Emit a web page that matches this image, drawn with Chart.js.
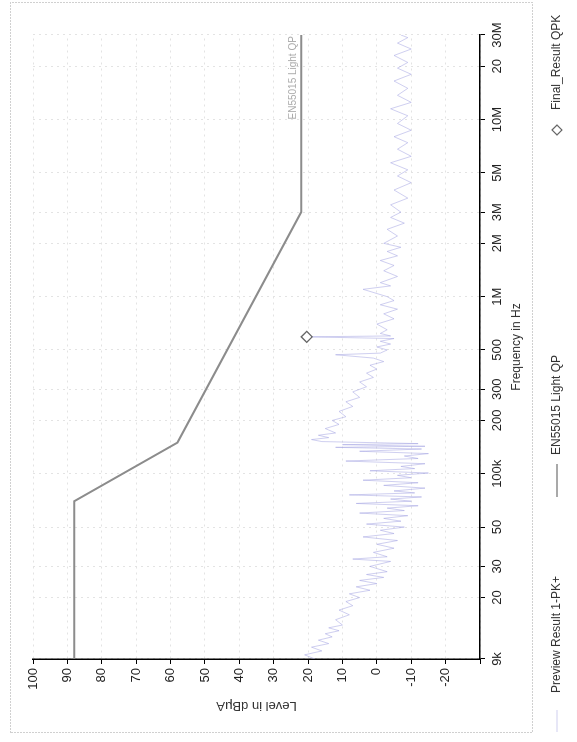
<!DOCTYPE html>
<html>
<head>
<meta charset="utf-8">
<script src="https://cdn.jsdelivr.net/npm/chart.js@4.4.0/dist/chart.umd.min.js"></script>
<style>
  html, body { margin: 0; padding: 0; background: #fff; overflow: hidden; }
  /* the scan is turned a quarter turn counter-clockwise */
  #wrap { position: absolute; left: 0; top: 0; width: 742px; height: 577px;
          transform-origin: 0 0; transform: translateY(742px) rotate(-90deg); }
</style>
</head>
<body>
<div id="wrap"><canvas id="emiChart" width="742" height="577"></canvas></div>
<script>
// axis ticks
const freqTicks = [9e3, 20e3, 30e3, 50e3, 100e3, 200e3, 300e3, 500e3, 1e6, 2e6, 3e6, 5e6, 10e6, 20e6, 30e6];
const freqLabels = ['9k', '20', '30', '50', '100k', '200', '300', '500', '1M', '2M', '3M', '5M', '10M', '20', '30M'];

// EN55015 limit (Hz, dBuA)
const limitFreq = [9e3, 70e3, 150e3, 3e6, 30e6];
const limitLevel = [88, 88, 58, 22, 22];

// final QPK measurement
const finalFreq = [593e3];
const finalLevel = [20.4];

// preview scan, frequencies in kHz
const previewKHz = [
  9, 9.5, 10, 10.5, 11, 11.5, 12, 12.5, 13, 13.5, 14, 15, 16, 17, 18, 19, 20,
  21, 22, 23, 24, 25, 26, 27, 28, 30, 32, 33, 34, 36, 38, 40, 42, 44, 46, 48, 50, 52, 54, 56, 58, 60, 62,
  64, 66, 68, 70, 72, 74, 76, 78, 80, 83, 86, 89, 92, 95, 98, 101, 104, 107, 110, 114, 118, 122, 126, 130, 134, 138, 141, 143, 146, 148,
  152, 156, 160, 165, 170, 180, 190, 200, 210, 225, 240, 255, 270, 290, 310, 330, 350, 370, 390, 410, 430, 450, 470, 480, 500, 520, 540, 560, 580, 593, 600, 620,
  650, 700, 750, 800, 850, 900, 950, 1000, 1100, 1150, 1200, 1300, 1400, 1500, 1600, 1700, 1800, 1900, 2000, 2200, 2400, 2600, 2800, 3000,
  3300, 3600, 4000, 4400, 4800, 5200, 5700, 6200, 6800, 7400, 8000, 8700, 9500, 10500, 11500, 12500, 13700, 15000, 16500, 18000, 19500, 21000, 23000, 25000, 27000, 29000, 30000
];
const previewLevel = [
  18, 21, 16, 19, 14, 17, 13, 15, 11, 14, 10, 12, 8, 11, 7, 9, 5,
  8, 2, 6, 0, 5, -2, 3, -3, 2, -4, 7, -3, 1, -5, 0, -6, 4, -5, -1, -8, 3, -7, -2, -9, 5, -8,
  -3, -12, 6, -10, -4, -13, 8, -11, -5, -14, -2, -12, 4, -10, -6, -15, 2, -11, -7, -14, 9, -12, -8, -15, 5, -13, 12, -14, 10, -12,
  16, 19, 14, 17, 12, 15, 11, 13, 9, 11, 7, 9, 5, 7, 3, 5, 1, 3, 0, 2, -2, 1, 12, -1, -3, 0, -4, -1, -5, 20, -4, -1,
  -3, 0, -5, -2, -6, -1, -5, -3, 4, -4, -1, -6, -2, -5, -1, -6, -3, -7, -2, -6, -3, -8, -4, -7,
  -4, -9, -5, -10, -6, -9, -4, -10, -6, -9, -5, -10, -6, -9, -4, -10, -6, -9, -5, -10, -6, -9, -5, -10, -6, -9, -7
];

const previewColor = 'rgba(160,160,225,0.5)';
const limitColor = '#8c8c8c';
const FONT = '"Liberation Sans", Arial, sans-serif';
Chart.defaults.font.family = FONT;

const pts = (xs, ys, k = 1) => xs.map((x, i) => ({ x: x * k, y: ys[i] }));

// frame, legend and the label on the limit line
const decor = {
  id: 'decor',
  afterDraw(chart) {
    const c = chart.ctx;
    const xs = chart.scales.x, ys = chart.scales.y;
    c.save();
    c.strokeStyle = '#a0a0a0';
    c.lineWidth = 1;
    c.setLineDash([1, 2]);
    c.strokeRect(9.5, 10.5, 730, 522);
    c.setLineDash([]);

    c.fillStyle = '#ababab';
    c.font = '10px ' + FONT;
    c.textBaseline = 'bottom';
    c.fillText('EN55015 Light QP', xs.getPixelForValue(10e6), ys.getPixelForValue(22) - 3);

    const ly = 557;
    c.font = '12px ' + FONT;
    c.fillStyle = '#333';
    c.textBaseline = 'middle';
    c.strokeStyle = previewColor; c.lineWidth = 1;
    c.beginPath(); c.moveTo(10, ly); c.lineTo(32, ly); c.stroke();
    c.fillText('Preview Result 1-PK+', 49, ly);
    c.strokeStyle = limitColor; c.lineWidth = 1.5;
    c.beginPath(); c.moveTo(245, ly); c.lineTo(278, ly); c.stroke();
    c.fillText('EN55015 Light QP', 287, ly);
    c.strokeStyle = '#666'; c.lineWidth = 1.2;
    c.beginPath(); c.moveTo(612, ly - 5); c.lineTo(617, ly); c.lineTo(612, ly + 5); c.lineTo(607, ly); c.closePath(); c.stroke();
    c.fillText('Final_Result QPK', 632, ly);
    c.restore();
  }
};

new Chart(document.getElementById('emiChart'), {
  type: 'scatter',
  data: {
    datasets: [
      {
        label: 'Final_Result QPK',
        data: pts(finalFreq, finalLevel),
        pointStyle: 'rectRot', pointRadius: 5.5, pointBorderWidth: 1.3,
        pointBorderColor: '#666', pointBackgroundColor: '#fff',
        order: 0
      },
      {
        label: 'EN55015 Light QP',
        data: pts(limitFreq, limitLevel),
        showLine: true, borderColor: limitColor, borderWidth: 2, pointRadius: 0,
        order: 1
      },
      {
        label: 'Preview Result 1-PK+',
        data: pts(previewKHz, previewLevel, 1000),
        showLine: true, borderColor: previewColor, borderWidth: 1, pointRadius: 0,
        order: 2
      }
    ]
  },
  options: {
    responsive: false,
    animation: false,
    events: [],
    layout: { padding: { left: 0, right: 35, top: 33, bottom: 0 } },
    plugins: { legend: { display: false }, tooltip: { enabled: false } },
    scales: {
      x: {
        type: 'logarithmic', min: 9e3, max: 30e6,
        afterBuildTicks: s => { s.ticks = freqTicks.map(v => ({ value: v })); },
        afterFit: s => { s.height = 97; },
        ticks: {
          autoSkip: false, maxRotation: 0, minRotation: 0, padding: 5,
          color: '#222', font: { size: 13 },
          callback: (v, i) => freqLabels[i]
        },
        grid: { color: '#e3e3e3', tickColor: '#000', tickLength: 5 },
        border: { color: '#000', width: 1.5, dash: [2, 4] },
        title: { display: true, text: 'Frequency in Hz', color: '#333', font: { size: 12 }, padding: { top: 0, bottom: 53 } }
      },
      y: {
        min: -30, max: 100,
        afterFit: s => { s.width = 83; },
        ticks: {
          stepSize: 5, padding: 4, color: '#222', font: { size: 13 },
          callback: v => (v % 10 === 0 && v > -30) ? v : ''
        },
        grid: { color: '#e3e3e3', tickColor: '#000', tickLength: 5 },
        border: { color: '#000', width: 1.5, dash: [2, 4] },
        title: { display: true, text: 'Level in dBμA', color: '#333', font: { size: 13 }, padding: { top: 29, bottom: 0 } }
      }
    }
  },
  plugins: [decor]
});
</script>
</body>
</html>
